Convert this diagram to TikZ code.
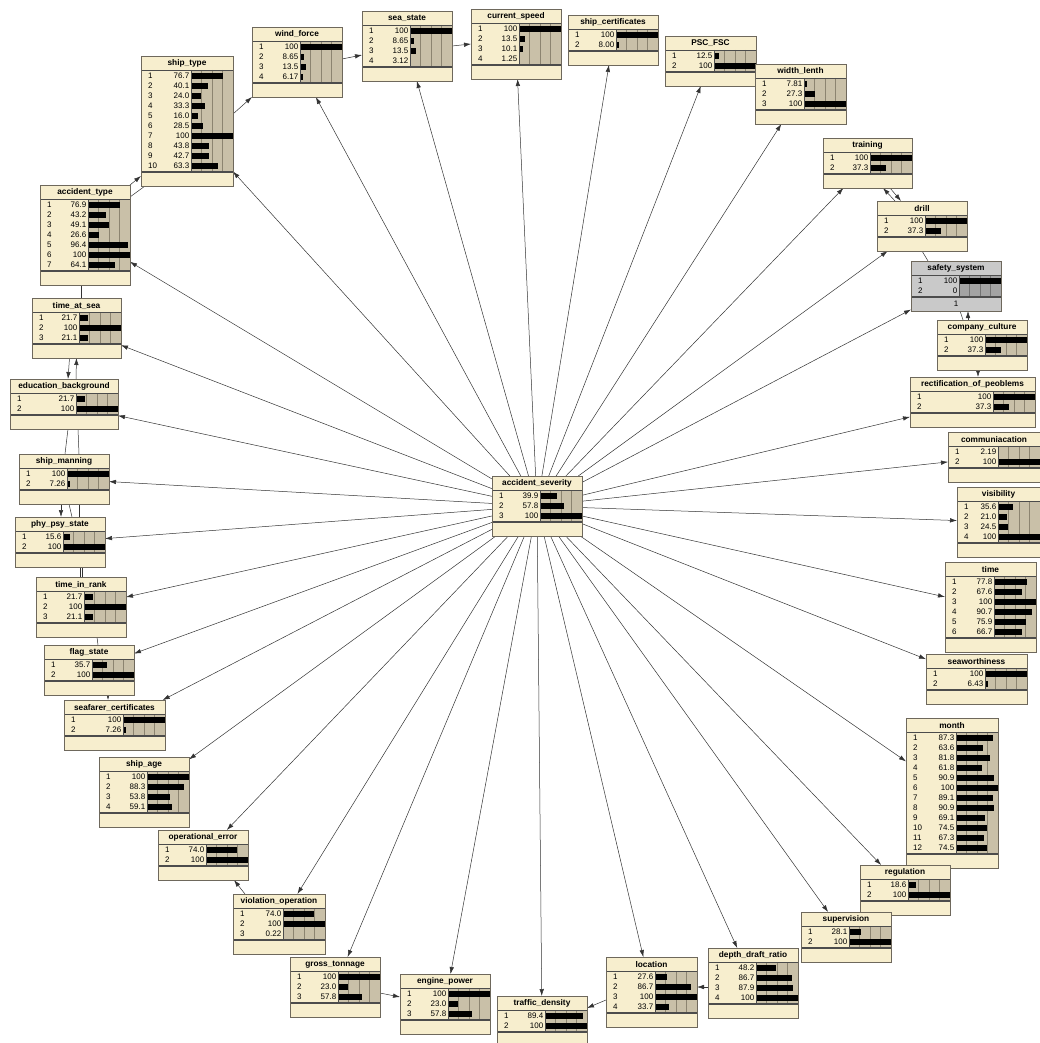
\documentclass[tikz,border=0pt]{standalone}
\usepackage{fontspec}
\setmainfont{Liberation Sans}
\usepackage{tikz}
\usetikzlibrary{arrows.meta, backgrounds}
\definecolor{NetFill}{RGB}{247, 238, 206}
\definecolor{NetBarBg}{RGB}{201, 192, 168}
\definecolor{NetGrid}{RGB}{140, 132, 112}
\definecolor{NetEdge}{RGB}{110, 104, 92}

% one belief node: name, x, y, width, rows, title, values
\newcommand{\bnnode}[7]{%
	\pgfmathsetmacro{\bnh}{30+10*#5}
	\pgfmathsetmacro{\bnbx}{#2+#4-42}
	\node[bnbox, minimum width=#4pt, minimum height=\bnh pt, anchor=north west] (#1) at (#2,#3) {};
	\fill[NetBarBg] (\bnbx,#3+14) rectangle (#2+#4,#3+16+10*#5);
	\foreach \k in {1,2,3} \draw[bngrid] (\bnbx+10.5*\k,#3+14) -- (\bnbx+10.5*\k,#3+16+10*#5);
	\foreach \v [count=\i] in {#7} {
		\fill (\bnbx,#3+7.25+10*\i) rectangle ++(0.42*\v,5.5);
		\node[bnstate] (#1-s\i) at (#2+7,#3+10+10*\i) {\i};
		\node[bnvalue] (#1-v\i) at (\bnbx-1.5,#3+10+10*\i) {\v};
	}
	\draw[bnrule] (#2,#3+14) -- (#2+#4,#3+14);
	\draw[bnrule, line width=1.2pt] (#2,#3+16+10*#5) -- (#2+#4,#3+16+10*#5);
	\draw[bnrule] (\bnbx,#3+14) -- (\bnbx,#3+16+10*#5);
	\node[bntitle] (#1-t) at (#2+#4/2,#3+7.5) {#6};
	\draw[NetEdge, line width=0.9pt] (#1.north west) rectangle (#1.south east);
}

\begin{document}
\begin{tikzpicture}[x=1pt, y=-1pt,
	bnbox/.style={rectangle, fill=NetFill, inner sep=0pt, outer sep=0pt},
	bngrid/.style={draw=NetGrid, line width=0.5pt},
	bnrule/.style={draw=black!70, line width=0.6pt},
	bntitle/.style={inner sep=0pt, font=\fontsize{8.3}{10}\selectfont\bfseries},
	bnstate/.style={anchor=west, inner sep=0pt, font=\fontsize{8}{9}\selectfont},
	bnvalue/.style={anchor=east, inner sep=0pt, font=\fontsize{8}{9}\selectfont},
	link/.style={->, draw=black!80, line width=0.5pt},
	tie/.style={draw=black!80, line width=0.5pt},
	>={Latex[length=7pt, width=4.5pt]}]
	\useasboundingbox (0,0) rectangle (1040,1043);

	\bnnode{sev}{492}{476}{90}{3}{accident\_severity}{39.9,57.8,100}
	\bnnode{shiptype}{141}{56}{92}{10}{ship\_type}{76.7,40.1,24.0,33.3,16.0,28.5,100,43.8,42.7,63.3}
	\bnnode{windforce}{252}{27}{90}{4}{wind\_force}{100,8.65,13.5,6.17}
	\bnnode{seastate}{362}{11}{90}{4}{sea\_state}{100,8.65,13.5,3.12}
	\bnnode{currentspeed}{471}{9}{90}{4}{current\_speed}{100,13.5,10.1,1.25}
	\bnnode{shipcert}{568}{15}{90}{2}{ship\_certificates}{100,8.00}
	\bnnode{pscfsc}{665}{36}{91}{2}{PSC\_FSC}{12.5,100}
	\bnnode{widthlenth}{755}{64}{91}{3}{width\_lenth}{7.81,27.3,100}
	\bnnode{training}{823}{138}{89}{2}{training}{100,37.3}
	\bnnode{drill}{877}{201}{90}{2}{drill}{100,37.3}
	\begin{scope}
		\colorlet{NetFill}{black!21}
		\colorlet{NetBarBg}{black!36}
		\colorlet{NetGrid}{black!55}
		\bnnode{safety}{911}{261}{90}{2}{safety\_system}{100,0}
		\node[bnstate, anchor=center] (safety-n) at (956,303.5) {1};
	\end{scope}
	\bnnode{culture}{937}{320}{90}{2}{company\_culture}{100,37.3}
	\bnnode{rectify}{910}{377}{125}{2}{rectification\_of\_peoblems}{100,37.3}
	\bnnode{communic}{948}{432}{92}{2}{communiacation}{2.19,100}
	\bnnode{visibility}{957}{487}{83}{4}{visibility}{35.6,21.0,24.5,100}
	\bnnode{time}{945}{562}{91}{6}{time}{77.8,67.6,100,90.7,75.9,66.7}
	\bnnode{seaworth}{926}{654}{101}{2}{seaworthiness}{100,6.43}
	\bnnode{month}{906}{718}{92}{12}{month}{87.3,63.6,81.8,61.8,90.9,100,89.1,90.9,69.1,74.5,67.3,74.5}
	\bnnode{regulation}{860}{865}{90}{2}{regulation}{18.6,100}
	\bnnode{supervision}{801}{912}{90}{2}{supervision}{28.1,100}
	\bnnode{depth}{708}{948}{90}{4}{depth\_draft\_ratio}{48.2,86.7,87.9,100}
	\bnnode{location}{606}{957}{91}{4}{location}{27.6,86.7,100,33.7}
	\bnnode{traffic}{497}{996}{90}{2}{traffic\_density}{89.4,100}
	\bnnode{engine}{400}{974}{90}{3}{engine\_power}{100,23.0,57.8}
	\bnnode{gross}{290}{957}{90}{3}{gross\_tonnage}{100,23.0,57.8}
	\bnnode{violation}{233}{894}{92}{3}{violation\_operation}{74.0,100,0.22}
	\bnnode{operr}{158}{830}{90}{2}{operational\_error}{74.0,100}
	\bnnode{shipage}{99}{757}{90}{4}{ship\_age}{100,88.3,53.8,59.1}
	\bnnode{seafarer}{64}{700}{101}{2}{seafarer\_certificates}{100,7.26}
	\bnnode{flag}{44}{645}{90}{2}{flag\_state}{35.7,100}
	\bnnode{timeinrank}{36}{577}{90}{3}{time\_in\_rank}{21.7,100,21.1}
	\bnnode{phypsy}{15}{517}{90}{2}{phy\_psy\_state}{15.6,100}
	\bnnode{manning}{19}{454}{90}{2}{ship\_manning}{100,7.26}
	\bnnode{edu}{10}{379}{108}{2}{education\_background}{21.7,100}
	\bnnode{timeatsea}{32}{298}{89}{3}{time\_at\_sea}{21.7,100,21.1}
	\bnnode{acctype}{40}{185}{90}{7}{accident\_type}{76.9,43.2,49.1,26.6,96.4,100,64.1}

	\begin{pgfonlayer}{background}
		% arcs out of the severity node
		\foreach \t in {windforce, seastate, currentspeed, shipcert, pscfsc, widthlenth, training, drill, safety, rectify, communic, visibility, time, seaworth, month, regulation, supervision, depth, location, traffic, engine, gross, violation, operr, shipage, seafarer, flag, timeinrank, phypsy, manning, edu, timeatsea, acctype, shiptype}
			\draw[link] (sev) -- (\t);
		% top row
		\draw[link] ([yshift=7pt]shiptype.east) -- (windforce.south west);
		\draw[link] ([yshift=3pt]windforce.east) -- ([yshift=-9pt]seastate.west);
		\draw[link] (seastate.east) -- (currentspeed.west);
		% left column
		\draw[link] (acctype.north east) -- ([yshift=10pt]shiptype.south west);
		\draw[tie] ([xshift=4pt]shiptype.south west) -- ([yshift=-12pt]acctype.north east);
		\draw[tie] ([xshift=-4pt]acctype.south) -- ([xshift=4.5pt]timeatsea.north);
		\draw[link] ([xshift=-7pt]timeatsea.south) -- ([xshift=4pt]edu.north);
		\draw[link] ([xshift=12pt]edu.north) -- (timeatsea.south);
		\draw[tie] ([xshift=4pt]edu.south) -- ([xshift=1pt]manning.north);
		\draw[tie] ([xshift=14pt]edu.south) -- ([xshift=15pt]manning.north);
		\draw[link] ([xshift=-3pt]manning.south) -- ([xshift=1pt]phypsy.north);
		\draw[tie] ([xshift=5pt]manning.south) -- ([xshift=12pt]phypsy.north);
		\draw[tie] ([xshift=15pt]manning.south) -- ([xshift=19pt]phypsy.north);
		\draw[tie] ([xshift=20pt]phypsy.south) -- ([xshift=-1pt]timeinrank.north);
		\draw[tie] ([xshift=22pt]phypsy.south) -- ([xshift=1pt]timeinrank.north);
		\draw[tie] ([xshift=16pt]timeinrank.south) -- ([xshift=9pt]flag.north);
		\draw[link] ([xshift=19pt]flag.south) -- ([xshift=-6.5pt]seafarer.north);
		% right column
		\draw[link] ([xshift=-27pt]drill.north) -- ([xshift=15.5pt]training.south);
		\draw[link] ([xshift=22.5pt]training.south) -- ([xshift=-21pt]drill.north);
		\draw[tie] (drill.south) -- ([xshift=-28pt]safety.north);
		\draw[link] ([xshift=-14pt]culture.north) -- ([xshift=12pt]safety.south);
		\draw[tie] ([xshift=4pt]safety.south) -- ([xshift=-19pt]culture.north);
		\draw[link] ([xshift=-4pt]culture.south) -- ([xshift=5.5pt]rectify.north);
		% bottom row
		\draw[link] ([yshift=-4pt]depth.west) -- ([yshift=5pt]location.east);
		\draw[link] ([yshift=-8pt]location.west) -- ([yshift=13pt]traffic.east);
		\draw[link] ([yshift=-6pt]gross.east) -- ([yshift=7pt]engine.west);
		\draw[link] ([xshift=12pt]violation.north west) -- ([xshift=-14pt]operr.south east);
	\end{pgfonlayer}
\end{tikzpicture}
\end{document}
